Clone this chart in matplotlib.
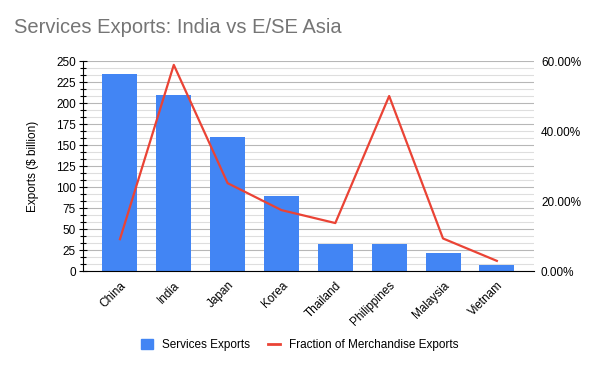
import numpy as np
import matplotlib.pyplot as plt
from matplotlib.ticker import MultipleLocator, FuncFormatter
from matplotlib.lines import Line2D
from matplotlib.patches import Patch

countries = ["China", "India", "Japan", "Korea", "Thailand", "Philippines", "Malaysia", "Vietnam"]
services_exports = [234, 209, 160, 89, 32, 32, 21.4, 6.7]          # $ billion
merch_fraction = [9.1, 58.9, 25.1, 17.4, 13.7, 50.0, 9.3, 2.9]      # percent

BLUE = "#4285F4"
RED = "#EA4335"

plt.rcParams["font.family"] = ["Liberation Sans", "DejaVu Sans"]

fig = plt.figure(figsize=(6, 3.71), dpi=100)
ax = fig.add_axes([0.138, 0.2695, 0.752, 0.566])
x = np.arange(len(countries))

# gridlines: darker at major, lighter at minor
ax.set_ylim(0, 250)
ax.yaxis.set_major_locator(MultipleLocator(25))
ax.yaxis.set_minor_locator(MultipleLocator(25 / 3))
ax.grid(which="major", axis="y", color="#b7b7b7", linewidth=0.8)
ax.grid(which="minor", axis="y", color="#dedede", linewidth=0.8)
ax.set_axisbelow(True)

ax.bar(x, services_exports, width=0.65, color=BLUE, zorder=2)
ax.set_xlim(-0.69, len(countries) - 1 + 0.69)

ax.set_xticks(x)
ax.set_xticklabels(countries, rotation=45, ha="right", rotation_mode="anchor", fontsize=8.5)
ax.tick_params(axis="x", length=0, pad=6)
ax.tick_params(axis="y", which="major", direction="inout", length=6, width=0.8, labelsize=8.5, pad=2)
ax.tick_params(axis="y", which="minor", direction="inout", length=4, width=0.8)
ax.set_ylabel("Exports ($ billion)", fontsize=8.5, labelpad=12)

for side in ["top", "right"]:
    ax.spines[side].set_visible(False)
ax.spines["left"].set_color("black")
ax.spines["bottom"].set_color("black")

ax2 = ax.twinx()
ax2.plot(x, merch_fraction, color=RED, linewidth=1.6, zorder=3)
ax2.set_ylim(0, 60)
ax2.yaxis.set_major_locator(MultipleLocator(20))
ax2.yaxis.set_major_formatter(FuncFormatter(lambda v, p: f"{v:.2f}%"))
ax2.tick_params(axis="y", length=0, labelsize=8.5, pad=5)
for side in ["top", "right", "left", "bottom"]:
    ax2.spines[side].set_visible(False)

fig.text(0.023, 0.912, "Services Exports: India vs E/SE Asia", fontsize=14.5, color="#757575")

handles = [Patch(facecolor=BLUE, edgecolor=BLUE),
           Line2D([0], [0], color=RED, linewidth=2)]
fig.legend(handles, ["Services Exports", "Fraction of Merchandise Exports"],
           loc="center", bbox_to_anchor=(0.5, 0.07), ncol=2, frameon=False,
           fontsize=8.5, handlelength=1.0, handleheight=1.0, columnspacing=1.5)

fig.savefig("out.png", dpi=100)
